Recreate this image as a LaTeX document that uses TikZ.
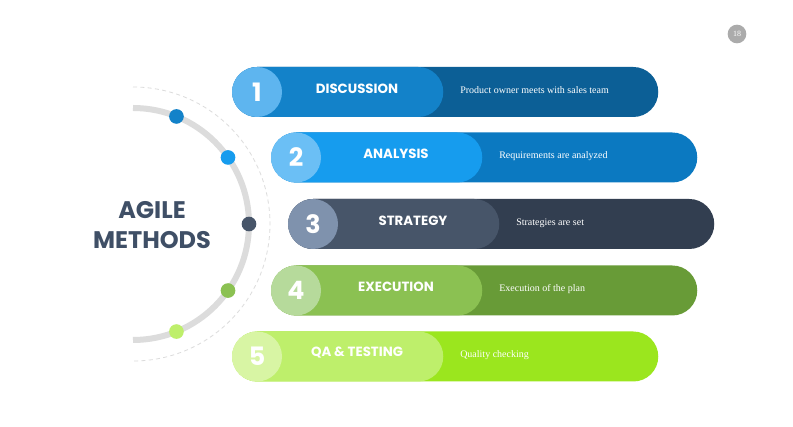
\documentclass[tikz,border=0pt]{standalone}
\usepackage{fontspec}
\setmainfont{Liberation Serif}
\newfontfamily\poppins{Poppins}

\definecolor{light1}{HTML}{5EB5EF}
\definecolor{mid1}{HTML}{1382C9}
\definecolor{dark1}{HTML}{0C5F96}
\definecolor{light2}{HTML}{6BBFF5}
\definecolor{mid2}{HTML}{169CEE}
\definecolor{dark2}{HTML}{0B79C1}
\definecolor{light3}{HTML}{7F92AD}
\definecolor{mid3}{HTML}{475569}
\definecolor{dark3}{HTML}{323E50}
\definecolor{light4}{HTML}{B6DA9B}
\definecolor{mid4}{HTML}{8BC152}
\definecolor{dark4}{HTML}{689B37}
\definecolor{light5}{HTML}{D8F5A4}
\definecolor{mid5}{HTML}{BEEF6B}
\definecolor{dark5}{HTML}{9BE61E}
\definecolor{agiletext}{HTML}{3F4F66}
\definecolor{arcgray}{HTML}{DCDCDC}

\tikzset{
  bar/.style={rectangle,rounded corners=18.75pt,minimum height=37.5pt,inner sep=0pt,anchor=west},
  num/.style={circle,minimum size=37.5pt,inner sep=0pt,text=white,font=\poppins\bfseries\fontsize{19}{19}\selectfont},
  title/.style={text=white,inner sep=0pt,font=\poppins\bfseries\fontsize{10}{12}\selectfont},
  desc/.style={anchor=base west,text=white,inner sep=0pt,font=\fontsize{7.5}{9}\selectfont},
  dot/.style={circle,minimum size=11pt,inner sep=0pt},
}

\begin{document}
\begin{tikzpicture}[x=0.75pt,y=-0.75pt]
    \useasboundingbox[fill=white] (0,0) rectangle (793,427);

    % left half ring
    \coordinate (ctr) at (133,224);
    \draw[arcgray,line width=4.5pt] ([shift={(90:87pt)}]ctr) arc[start angle=90,end angle=-90,radius=87pt];
    \draw[arcgray,line width=0.6pt,dash pattern=on 3pt off 2.5pt] ([shift={(90:102.75pt)}]ctr) arc[start angle=90,end angle=-90,radius=102.75pt];
    \node[dot,fill=mid1] (dot1) at ([shift={(68:87pt)}]ctr) {};
    \node[dot,fill=mid2] (dot2) at ([shift={(35:87pt)}]ctr) {};
    \node[dot,fill=mid3] (dot3) at ([shift={(0:87pt)}]ctr) {};
    \node[dot,fill=mid4] (dot4) at ([shift={(-35:87pt)}]ctr) {};
    \node[dot,fill=mid5] (dot5) at ([shift={(-68:87pt)}]ctr) {};
    \node[align=center,text=agiletext,font=\poppins\bfseries\fontsize{18}{22}\selectfont] (agile) at (152,225) {AGILE\\METHODS};

    % steps
    \node[bar,fill=dark1,minimum width=319.5pt] (bar1) at (232,92) {};
    \node[bar,fill=mid1,minimum width=158.25pt] (part1) at (232,92) {};
    \node[num,fill=light1] (num1) at (257,92) {1};
    \node[title] (title1) at (357,88.5) {DISCUSSION};
    \node[desc] (desc1) at (460,93.5) {Product owner meets with sales team};

    \node[bar,fill=dark2,minimum width=319.5pt] (bar2) at (271,157.5) {};
    \node[bar,fill=mid2,minimum width=158.25pt] (part2) at (271,157.5) {};
    \node[num,fill=light2] (num2) at (296,157.5) {2};
    \node[title] (title2) at (396,154) {ANALYSIS};
    \node[desc] (desc2) at (499,159) {Requirements are analyzed};

    \node[bar,fill=dark3,minimum width=319.5pt] (bar3) at (288,224) {};
    \node[bar,fill=mid3,minimum width=158.25pt] (part3) at (288,224) {};
    \node[num,fill=light3] (num3) at (313,224) {3};
    \node[title] (title3) at (413,220.5) {STRATEGY};
    \node[desc] (desc3) at (516,225.5) {Strategies are set};

    \node[bar,fill=dark4,minimum width=319.5pt] (bar4) at (271,290.5) {};
    \node[bar,fill=mid4,minimum width=158.25pt] (part4) at (271,290.5) {};
    \node[num,fill=light4] (num4) at (296,290.5) {4};
    \node[title] (title4) at (396,287) {EXECUTION};
    \node[desc] (desc4) at (499,292) {Execution of the plan};

    \node[bar,fill=dark5,minimum width=319.5pt] (bar5) at (232,356.5) {};
    \node[bar,fill=mid5,minimum width=158.25pt] (part5) at (232,356.5) {};
    \node[num,fill=light5] (num5) at (257,356.5) {5};
    \node[title] (title5) at (357,353) {QA \& TESTING};
    \node[desc] (desc5) at (460,358) {Quality checking};

    % page number
    \node[circle,fill=black!33,minimum size=14pt,inner sep=0pt,text=white,font=\fontsize{6}{6}\selectfont] (page) at (737,34) {18};
  \end{tikzpicture}
\end{document}
